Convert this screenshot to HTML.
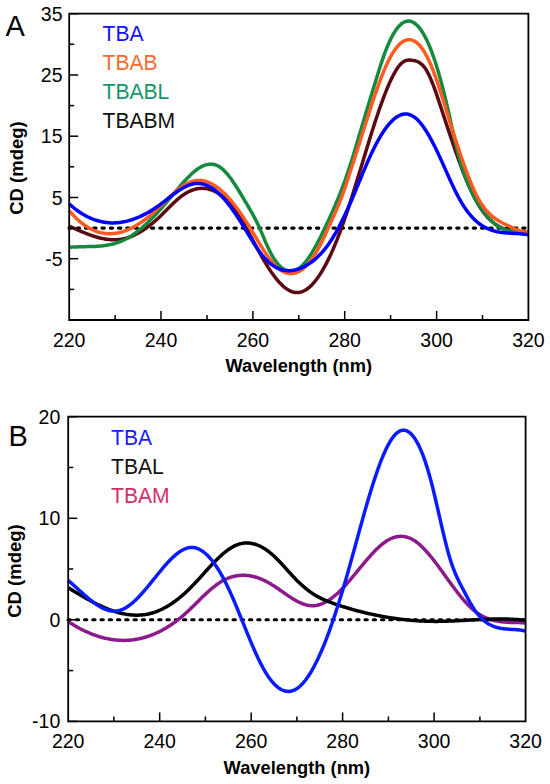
<!DOCTYPE html>
<html><head><meta charset="utf-8"><style>
html,body{margin:0;padding:0;background:#fff;}
body{width:550px;height:784px;overflow:hidden;}
svg{display:block;font-family:"Liberation Sans", sans-serif;}
</style></head><body>
<svg width="550" height="784" viewBox="0 0 550 784">
<rect width="550" height="784" fill="#fff"/>
<line x1="69.0" y1="228.1" x2="526.9" y2="228.1" stroke="#000" stroke-width="3.1" stroke-linecap="round" stroke-dasharray="2.3 5.95"/>
<path d="M69.0,226.0 L70.0,226.5 L71.0,226.9 L72.0,227.4 L73.0,227.8 L74.0,228.3 L75.0,228.7 L76.0,229.2 L77.0,229.6 L78.0,230.1 L79.0,230.5 L80.0,230.9 L81.0,231.4 L82.0,231.8 L83.0,232.2 L84.0,232.6 L85.0,233.0 L86.0,233.4 L87.0,233.8 L88.0,234.2 L89.0,234.6 L90.0,234.9 L91.0,235.3 L92.0,235.6 L93.0,236.0 L94.0,236.3 L95.0,236.6 L96.0,236.9 L97.0,237.2 L98.0,237.5 L99.0,237.7 L100.0,238.0 L101.0,238.2 L102.0,238.4 L103.0,238.6 L104.0,238.8 L105.0,239.0 L106.0,239.2 L107.0,239.3 L108.0,239.4 L109.0,239.5 L110.0,239.6 L111.0,239.7 L112.0,239.8 L113.0,239.8 L114.0,239.8 L115.0,239.8 L116.0,239.8 L117.0,239.7 L118.0,239.6 L119.0,239.6 L120.0,239.4 L121.0,239.3 L122.0,239.1 L123.0,239.0 L124.0,238.7 L125.0,238.5 L126.0,238.3 L127.0,238.0 L128.0,237.7 L129.0,237.3 L130.0,237.0 L131.0,236.6 L132.0,236.2 L133.0,235.7 L134.0,235.3 L135.0,234.8 L136.0,234.3 L137.0,233.8 L138.0,233.3 L139.0,232.7 L140.0,232.1 L141.0,231.5 L142.0,230.9 L143.0,230.3 L144.0,229.6 L145.0,228.9 L146.0,228.2 L147.0,227.5 L148.0,226.7 L149.0,226.0 L150.0,225.2 L151.0,224.4 L152.0,223.6 L153.0,222.8 L154.0,221.9 L155.0,221.1 L156.0,220.2 L157.0,219.3 L158.0,218.4 L159.0,217.5 L160.0,216.5 L161.0,215.6 L162.0,214.6 L163.0,213.6 L164.0,212.6 L165.0,211.6 L166.0,210.6 L167.0,209.6 L168.0,208.6 L169.0,207.6 L170.0,206.6 L171.0,205.6 L172.0,204.6 L173.0,203.6 L174.0,202.6 L175.0,201.7 L176.0,200.8 L177.0,199.9 L178.0,199.0 L179.0,198.1 L180.0,197.3 L181.0,196.5 L182.0,195.8 L183.0,195.1 L184.0,194.4 L185.0,193.8 L186.0,193.1 L187.0,192.6 L188.0,192.0 L189.0,191.5 L190.0,191.1 L191.0,190.6 L192.0,190.2 L193.0,189.9 L194.0,189.5 L195.0,189.3 L196.0,189.0 L197.0,188.8 L198.0,188.6 L199.0,188.5 L200.0,188.4 L201.0,188.3 L202.0,188.3 L203.0,188.3 L204.0,188.4 L205.0,188.4 L206.0,188.6 L207.0,188.7 L208.0,188.9 L209.0,189.2 L210.0,189.5 L211.0,189.8 L212.0,190.2 L213.0,190.6 L214.0,191.0 L215.0,191.5 L216.0,192.0 L217.0,192.6 L218.0,193.2 L219.0,193.8 L220.0,194.5 L221.0,195.3 L222.0,196.0 L223.0,196.9 L224.0,197.7 L225.0,198.6 L226.0,199.6 L227.0,200.6 L228.0,201.6 L229.0,202.7 L230.0,203.8 L231.0,204.9 L232.0,206.1 L233.0,207.4 L234.0,208.7 L235.0,210.0 L236.0,211.4 L237.0,212.8 L238.0,214.3 L239.0,215.8 L240.0,217.4 L241.0,219.0 L242.0,220.6 L243.0,222.3 L244.0,224.0 L245.0,225.8 L246.0,227.5 L247.0,229.3 L248.0,231.2 L249.0,233.0 L250.0,234.9 L251.0,236.7 L252.0,238.6 L253.0,240.5 L254.0,242.3 L255.0,244.2 L256.0,246.1 L257.0,248.0 L258.0,249.8 L259.0,251.7 L260.0,253.5 L261.0,255.3 L262.0,257.0 L263.0,258.8 L264.0,260.5 L265.0,262.2 L266.0,263.9 L267.0,265.5 L268.0,267.1 L269.0,268.6 L270.0,270.2 L271.0,271.6 L272.0,273.1 L273.0,274.5 L274.0,275.8 L275.0,277.2 L276.0,278.4 L277.0,279.7 L278.0,280.8 L279.0,282.0 L280.0,283.1 L281.0,284.1 L282.0,285.1 L283.0,286.0 L284.0,286.9 L285.0,287.7 L286.0,288.4 L287.0,289.1 L288.0,289.8 L289.0,290.3 L290.0,290.9 L291.0,291.3 L292.0,291.7 L293.0,292.0 L294.0,292.3 L295.0,292.4 L296.0,292.5 L297.0,292.6 L298.0,292.5 L299.0,292.4 L300.0,292.2 L301.0,292.0 L302.0,291.7 L303.0,291.3 L304.0,290.8 L305.0,290.3 L306.0,289.7 L307.0,289.0 L308.0,288.3 L309.0,287.5 L310.0,286.6 L311.0,285.7 L312.0,284.7 L313.0,283.6 L314.0,282.5 L315.0,281.3 L316.0,280.0 L317.0,278.7 L318.0,277.3 L319.0,275.9 L320.0,274.4 L321.0,272.8 L322.0,271.2 L323.0,269.5 L324.0,267.7 L325.0,265.9 L326.0,264.1 L327.0,262.1 L328.0,260.1 L329.0,258.1 L330.0,256.0 L331.0,253.9 L332.0,251.6 L333.0,249.4 L334.0,247.0 L335.0,244.7 L336.0,242.2 L337.0,239.8 L338.0,237.2 L339.0,234.6 L340.0,232.0 L341.0,229.3 L342.0,226.5 L343.0,223.7 L344.0,220.9 L345.0,218.0 L346.0,215.1 L347.0,212.1 L348.0,209.1 L349.0,206.0 L350.0,202.9 L351.0,199.8 L352.0,196.7 L353.0,193.5 L354.0,190.3 L355.0,187.1 L356.0,183.8 L357.0,180.6 L358.0,177.3 L359.0,174.0 L360.0,170.8 L361.0,167.5 L362.0,164.2 L363.0,160.9 L364.0,157.6 L365.0,154.3 L366.0,151.0 L367.0,147.8 L368.0,144.5 L369.0,141.3 L370.0,138.0 L371.0,134.8 L372.0,131.6 L373.0,128.5 L374.0,125.4 L375.0,122.3 L376.0,119.2 L377.0,116.2 L378.0,113.2 L379.0,110.3 L380.0,107.4 L381.0,104.6 L382.0,101.8 L383.0,99.1 L384.0,96.4 L385.0,93.8 L386.0,91.3 L387.0,88.8 L388.0,86.5 L389.0,84.1 L390.0,81.9 L391.0,79.8 L392.0,77.7 L393.0,75.7 L394.0,73.8 L395.0,72.0 L396.0,70.4 L397.0,68.8 L398.0,67.3 L399.0,66.0 L400.0,64.8 L401.0,63.7 L402.0,62.8 L403.0,62.0 L404.0,61.4 L405.0,60.9 L406.0,60.5 L407.0,60.3 L408.0,60.2 L409.0,60.1 L410.0,60.1 L411.0,60.2 L412.0,60.3 L413.0,60.4 L414.0,60.6 L415.0,60.8 L416.0,61.1 L417.0,61.4 L418.0,61.8 L419.0,62.3 L420.0,63.0 L421.0,63.7 L422.0,64.6 L423.0,65.6 L424.0,66.7 L425.0,68.1 L426.0,69.5 L427.0,71.2 L428.0,73.1 L429.0,75.1 L430.0,77.3 L431.0,79.6 L432.0,82.0 L433.0,84.5 L434.0,87.2 L435.0,89.9 L436.0,92.7 L437.0,95.6 L438.0,98.6 L439.0,101.6 L440.0,104.6 L441.0,107.6 L442.0,110.7 L443.0,113.7 L444.0,116.8 L445.0,119.8 L446.0,122.9 L447.0,125.9 L448.0,128.9 L449.0,131.9 L450.0,134.9 L451.0,137.9 L452.0,140.8 L453.0,143.8 L454.0,146.7 L455.0,149.6 L456.0,152.4 L457.0,155.2 L458.0,158.0 L459.0,160.8 L460.0,163.5 L461.0,166.2 L462.0,168.9 L463.0,171.5 L464.0,174.0 L465.0,176.5 L466.0,179.0 L467.0,181.4 L468.0,183.8 L469.0,186.1 L470.0,188.3 L471.0,190.5 L472.0,192.6 L473.0,194.7 L474.0,196.7 L475.0,198.6 L476.0,200.5 L477.0,202.3 L478.0,204.0 L479.0,205.7 L480.0,207.2 L481.0,208.8 L482.0,210.2 L483.0,211.6 L484.0,212.9 L485.0,214.2 L486.0,215.4 L487.0,216.6 L488.0,217.7 L489.0,218.7 L490.0,219.7 L491.0,220.6 L492.0,221.5 L493.0,222.4 L494.0,223.2 L495.0,223.9 L496.0,224.6 L497.0,225.3 L498.0,225.9 L499.0,226.5 L500.0,227.0 L501.0,227.6 L502.0,228.0 L503.0,228.5 L504.0,228.9 L505.0,229.3 L506.0,229.6 L507.0,229.9 L508.0,230.2 L509.0,230.5 L510.0,230.8 L511.0,231.0 L512.0,231.2 L513.0,231.4 L514.0,231.6 L515.0,231.7 L516.0,231.9 L517.0,232.0 L518.0,232.1 L519.0,232.2 L520.0,232.3 L521.0,232.4 L522.0,232.5 L523.0,232.6 L524.0,232.7 L525.0,232.7 L526.0,232.8 L527.0,232.9 L528.0,233.0" fill="none" stroke="#5a0a10" stroke-width="3.5" stroke-linejoin="round" stroke-linecap="butt"/>
<path d="M69.0,247.4 L70.0,247.3 L71.0,247.2 L72.0,247.1 L73.0,247.1 L74.0,247.0 L75.0,246.9 L76.0,246.9 L77.0,246.9 L78.0,246.8 L79.0,246.8 L80.0,246.8 L81.0,246.8 L82.0,246.7 L83.0,246.7 L84.0,246.7 L85.0,246.7 L86.0,246.7 L87.0,246.6 L88.0,246.6 L89.0,246.6 L90.0,246.6 L91.0,246.6 L92.0,246.5 L93.0,246.5 L94.0,246.4 L95.0,246.4 L96.0,246.3 L97.0,246.3 L98.0,246.2 L99.0,246.2 L100.0,246.1 L101.0,246.0 L102.0,245.9 L103.0,245.8 L104.0,245.6 L105.0,245.5 L106.0,245.4 L107.0,245.2 L108.0,245.0 L109.0,244.8 L110.0,244.6 L111.0,244.4 L112.0,244.2 L113.0,243.9 L114.0,243.7 L115.0,243.4 L116.0,243.1 L117.0,242.8 L118.0,242.4 L119.0,242.1 L120.0,241.7 L121.0,241.3 L122.0,240.9 L123.0,240.4 L124.0,240.0 L125.0,239.5 L126.0,239.0 L127.0,238.4 L128.0,237.9 L129.0,237.3 L130.0,236.7 L131.0,236.0 L132.0,235.4 L133.0,234.7 L134.0,234.0 L135.0,233.3 L136.0,232.6 L137.0,231.8 L138.0,231.0 L139.0,230.2 L140.0,229.4 L141.0,228.6 L142.0,227.7 L143.0,226.9 L144.0,226.0 L145.0,225.1 L146.0,224.2 L147.0,223.2 L148.0,222.3 L149.0,221.3 L150.0,220.3 L151.0,219.3 L152.0,218.3 L153.0,217.3 L154.0,216.3 L155.0,215.2 L156.0,214.2 L157.0,213.1 L158.0,212.0 L159.0,210.9 L160.0,209.8 L161.0,208.7 L162.0,207.6 L163.0,206.4 L164.0,205.3 L165.0,204.1 L166.0,202.9 L167.0,201.8 L168.0,200.6 L169.0,199.4 L170.0,198.2 L171.0,197.0 L172.0,195.8 L173.0,194.6 L174.0,193.4 L175.0,192.2 L176.0,190.9 L177.0,189.7 L178.0,188.6 L179.0,187.4 L180.0,186.2 L181.0,185.0 L182.0,183.9 L183.0,182.8 L184.0,181.6 L185.0,180.5 L186.0,179.5 L187.0,178.4 L188.0,177.4 L189.0,176.4 L190.0,175.4 L191.0,174.4 L192.0,173.5 L193.0,172.6 L194.0,171.8 L195.0,171.0 L196.0,170.2 L197.0,169.5 L198.0,168.8 L199.0,168.1 L200.0,167.5 L201.0,166.9 L202.0,166.4 L203.0,165.9 L204.0,165.5 L205.0,165.2 L206.0,164.8 L207.0,164.6 L208.0,164.4 L209.0,164.3 L210.0,164.2 L211.0,164.2 L212.0,164.2 L213.0,164.3 L214.0,164.5 L215.0,164.8 L216.0,165.1 L217.0,165.5 L218.0,166.0 L219.0,166.5 L220.0,167.2 L221.0,167.9 L222.0,168.7 L223.0,169.5 L224.0,170.5 L225.0,171.5 L226.0,172.6 L227.0,173.7 L228.0,174.9 L229.0,176.2 L230.0,177.5 L231.0,178.8 L232.0,180.2 L233.0,181.7 L234.0,183.2 L235.0,184.7 L236.0,186.2 L237.0,187.8 L238.0,189.4 L239.0,191.0 L240.0,192.7 L241.0,194.3 L242.0,196.0 L243.0,197.7 L244.0,199.4 L245.0,201.1 L246.0,202.7 L247.0,204.4 L248.0,206.1 L249.0,207.8 L250.0,209.5 L251.0,211.3 L252.0,213.0 L253.0,214.8 L254.0,216.7 L255.0,218.6 L256.0,220.5 L257.0,222.5 L258.0,224.6 L259.0,226.8 L260.0,229.0 L261.0,231.3 L262.0,233.6 L263.0,236.0 L264.0,238.4 L265.0,240.7 L266.0,243.1 L267.0,245.3 L268.0,247.5 L269.0,249.6 L270.0,251.6 L271.0,253.5 L272.0,255.3 L273.0,257.0 L274.0,258.6 L275.0,260.1 L276.0,261.5 L277.0,262.9 L278.0,264.1 L279.0,265.2 L280.0,266.2 L281.0,267.1 L282.0,267.9 L283.0,268.7 L284.0,269.3 L285.0,269.9 L286.0,270.3 L287.0,270.7 L288.0,271.0 L289.0,271.2 L290.0,271.3 L291.0,271.3 L292.0,271.2 L293.0,271.1 L294.0,270.8 L295.0,270.5 L296.0,270.0 L297.0,269.5 L298.0,269.0 L299.0,268.3 L300.0,267.5 L301.0,266.7 L302.0,265.8 L303.0,264.8 L304.0,263.7 L305.0,262.5 L306.0,261.3 L307.0,260.0 L308.0,258.7 L309.0,257.2 L310.0,255.7 L311.0,254.2 L312.0,252.6 L313.0,250.9 L314.0,249.2 L315.0,247.4 L316.0,245.6 L317.0,243.7 L318.0,241.8 L319.0,239.9 L320.0,238.0 L321.0,236.0 L322.0,233.9 L323.0,231.9 L324.0,229.8 L325.0,227.7 L326.0,225.6 L327.0,223.5 L328.0,221.4 L329.0,219.2 L330.0,217.0 L331.0,214.8 L332.0,212.6 L333.0,210.4 L334.0,208.1 L335.0,205.8 L336.0,203.4 L337.0,201.0 L338.0,198.6 L339.0,196.2 L340.0,193.7 L341.0,191.1 L342.0,188.5 L343.0,185.9 L344.0,183.2 L345.0,180.5 L346.0,177.6 L347.0,174.8 L348.0,171.8 L349.0,168.8 L350.0,165.8 L351.0,162.6 L352.0,159.4 L353.0,156.2 L354.0,152.9 L355.0,149.6 L356.0,146.2 L357.0,142.9 L358.0,139.5 L359.0,136.1 L360.0,132.8 L361.0,129.4 L362.0,126.1 L363.0,122.8 L364.0,119.4 L365.0,116.1 L366.0,112.8 L367.0,109.5 L368.0,106.2 L369.0,102.9 L370.0,99.6 L371.0,96.3 L372.0,93.0 L373.0,89.8 L374.0,86.5 L375.0,83.2 L376.0,80.0 L377.0,76.7 L378.0,73.5 L379.0,70.3 L380.0,67.1 L381.0,64.0 L382.0,61.0 L383.0,58.1 L384.0,55.2 L385.0,52.5 L386.0,49.9 L387.0,47.4 L388.0,45.0 L389.0,42.7 L390.0,40.5 L391.0,38.5 L392.0,36.5 L393.0,34.7 L394.0,33.0 L395.0,31.4 L396.0,29.9 L397.0,28.6 L398.0,27.3 L399.0,26.2 L400.0,25.1 L401.0,24.2 L402.0,23.4 L403.0,22.7 L404.0,22.2 L405.0,21.7 L406.0,21.4 L407.0,21.2 L408.0,21.0 L409.0,21.0 L410.0,21.2 L411.0,21.4 L412.0,21.7 L413.0,22.2 L414.0,22.8 L415.0,23.5 L416.0,24.3 L417.0,25.2 L418.0,26.2 L419.0,27.3 L420.0,28.6 L421.0,30.0 L422.0,31.5 L423.0,33.1 L424.0,34.8 L425.0,36.6 L426.0,38.6 L427.0,40.6 L428.0,42.8 L429.0,45.1 L430.0,47.5 L431.0,50.0 L432.0,52.7 L433.0,55.4 L434.0,58.3 L435.0,61.2 L436.0,64.3 L437.0,67.5 L438.0,70.8 L439.0,74.3 L440.0,77.8 L441.0,81.4 L442.0,85.1 L443.0,89.0 L444.0,92.9 L445.0,96.9 L446.0,101.1 L447.0,105.3 L448.0,109.6 L449.0,114.0 L450.0,118.5 L451.0,123.1 L452.0,127.6 L453.0,132.1 L454.0,136.6 L455.0,140.9 L456.0,145.2 L457.0,149.3 L458.0,153.2 L459.0,156.9 L460.0,160.5 L461.0,163.9 L462.0,167.1 L463.0,170.2 L464.0,173.2 L465.0,176.0 L466.0,178.7 L467.0,181.3 L468.0,183.7 L469.0,186.1 L470.0,188.3 L471.0,190.5 L472.0,192.5 L473.0,194.5 L474.0,196.4 L475.0,198.2 L476.0,200.0 L477.0,201.7 L478.0,203.4 L479.0,205.0 L480.0,206.5 L481.0,208.0 L482.0,209.4 L483.0,210.8 L484.0,212.2 L485.0,213.5 L486.0,214.7 L487.0,215.9 L488.0,217.1 L489.0,218.2 L490.0,219.3 L491.0,220.3 L492.0,221.3 L493.0,222.2 L494.0,223.1 L495.0,224.0 L496.0,224.8 L497.0,225.6 L498.0,226.3 L499.0,226.9 L500.0,227.5 L501.0,228.1 L502.0,228.6 L503.0,229.0 L504.0,229.4 L505.0,229.8 L506.0,230.1 L507.0,230.3 L508.0,230.6 L509.0,230.8 L510.0,230.9 L511.0,231.1 L512.0,231.2 L513.0,231.3 L514.0,231.4 L515.0,231.5 L516.0,231.6 L517.0,231.6 L518.0,231.7 L519.0,231.7 L520.0,231.8 L521.0,231.9 L522.0,232.0 L523.0,232.1 L524.0,232.2 L525.0,232.4 L526.0,232.5 L527.0,232.8 L528.0,233.0" fill="none" stroke="#158a3e" stroke-width="3.5" stroke-linejoin="round" stroke-linecap="butt"/>
<path d="M69.0,210.4 L70.0,211.6 L71.0,212.7 L72.0,213.9 L73.0,214.9 L74.0,216.0 L75.0,217.0 L76.0,218.0 L77.0,219.0 L78.0,219.9 L79.0,220.8 L80.0,221.6 L81.0,222.5 L82.0,223.2 L83.0,224.0 L84.0,224.7 L85.0,225.5 L86.0,226.1 L87.0,226.8 L88.0,227.4 L89.0,228.0 L90.0,228.5 L91.0,229.0 L92.0,229.5 L93.0,230.0 L94.0,230.4 L95.0,230.9 L96.0,231.2 L97.0,231.6 L98.0,231.9 L99.0,232.2 L100.0,232.5 L101.0,232.7 L102.0,232.9 L103.0,233.1 L104.0,233.3 L105.0,233.4 L106.0,233.5 L107.0,233.6 L108.0,233.7 L109.0,233.7 L110.0,233.7 L111.0,233.7 L112.0,233.6 L113.0,233.6 L114.0,233.5 L115.0,233.4 L116.0,233.2 L117.0,233.1 L118.0,232.9 L119.0,232.7 L120.0,232.4 L121.0,232.2 L122.0,231.9 L123.0,231.6 L124.0,231.2 L125.0,230.9 L126.0,230.5 L127.0,230.1 L128.0,229.7 L129.0,229.3 L130.0,228.8 L131.0,228.3 L132.0,227.8 L133.0,227.3 L134.0,226.8 L135.0,226.2 L136.0,225.6 L137.0,225.0 L138.0,224.4 L139.0,223.8 L140.0,223.1 L141.0,222.4 L142.0,221.8 L143.0,221.0 L144.0,220.3 L145.0,219.6 L146.0,218.8 L147.0,218.0 L148.0,217.2 L149.0,216.4 L150.0,215.5 L151.0,214.7 L152.0,213.8 L153.0,212.9 L154.0,212.0 L155.0,211.1 L156.0,210.2 L157.0,209.2 L158.0,208.3 L159.0,207.3 L160.0,206.3 L161.0,205.4 L162.0,204.4 L163.0,203.4 L164.0,202.4 L165.0,201.4 L166.0,200.5 L167.0,199.5 L168.0,198.5 L169.0,197.6 L170.0,196.6 L171.0,195.7 L172.0,194.8 L173.0,193.9 L174.0,193.0 L175.0,192.1 L176.0,191.2 L177.0,190.4 L178.0,189.6 L179.0,188.8 L180.0,188.0 L181.0,187.3 L182.0,186.6 L183.0,185.9 L184.0,185.3 L185.0,184.6 L186.0,184.1 L187.0,183.5 L188.0,183.0 L189.0,182.6 L190.0,182.2 L191.0,181.8 L192.0,181.4 L193.0,181.2 L194.0,180.9 L195.0,180.7 L196.0,180.6 L197.0,180.5 L198.0,180.4 L199.0,180.4 L200.0,180.4 L201.0,180.5 L202.0,180.6 L203.0,180.8 L204.0,181.0 L205.0,181.2 L206.0,181.5 L207.0,181.8 L208.0,182.2 L209.0,182.6 L210.0,183.0 L211.0,183.5 L212.0,184.0 L213.0,184.6 L214.0,185.2 L215.0,185.8 L216.0,186.5 L217.0,187.2 L218.0,187.9 L219.0,188.7 L220.0,189.5 L221.0,190.4 L222.0,191.3 L223.0,192.2 L224.0,193.1 L225.0,194.1 L226.0,195.1 L227.0,196.2 L228.0,197.3 L229.0,198.4 L230.0,199.5 L231.0,200.7 L232.0,201.9 L233.0,203.1 L234.0,204.4 L235.0,205.7 L236.0,207.0 L237.0,208.3 L238.0,209.7 L239.0,211.1 L240.0,212.5 L241.0,213.9 L242.0,215.4 L243.0,216.9 L244.0,218.4 L245.0,219.9 L246.0,221.5 L247.0,223.0 L248.0,224.6 L249.0,226.2 L250.0,227.8 L251.0,229.5 L252.0,231.1 L253.0,232.8 L254.0,234.4 L255.0,236.1 L256.0,237.8 L257.0,239.4 L258.0,241.1 L259.0,242.7 L260.0,244.4 L261.0,246.0 L262.0,247.6 L263.0,249.1 L264.0,250.7 L265.0,252.2 L266.0,253.7 L267.0,255.2 L268.0,256.6 L269.0,258.0 L270.0,259.3 L271.0,260.6 L272.0,261.9 L273.0,263.0 L274.0,264.2 L275.0,265.3 L276.0,266.3 L277.0,267.2 L278.0,268.1 L279.0,268.9 L280.0,269.7 L281.0,270.4 L282.0,271.0 L283.0,271.5 L284.0,272.0 L285.0,272.5 L286.0,272.8 L287.0,273.1 L288.0,273.3 L289.0,273.5 L290.0,273.6 L291.0,273.6 L292.0,273.6 L293.0,273.5 L294.0,273.3 L295.0,273.1 L296.0,272.8 L297.0,272.4 L298.0,272.0 L299.0,271.5 L300.0,270.9 L301.0,270.3 L302.0,269.6 L303.0,268.8 L304.0,268.0 L305.0,267.1 L306.0,266.1 L307.0,265.0 L308.0,263.9 L309.0,262.8 L310.0,261.5 L311.0,260.2 L312.0,258.8 L313.0,257.4 L314.0,255.9 L315.0,254.3 L316.0,252.6 L317.0,250.9 L318.0,249.1 L319.0,247.3 L320.0,245.4 L321.0,243.4 L322.0,241.4 L323.0,239.4 L324.0,237.3 L325.0,235.2 L326.0,233.0 L327.0,230.8 L328.0,228.6 L329.0,226.4 L330.0,224.2 L331.0,222.0 L332.0,219.8 L333.0,217.5 L334.0,215.3 L335.0,213.1 L336.0,210.8 L337.0,208.6 L338.0,206.2 L339.0,203.9 L340.0,201.4 L341.0,198.9 L342.0,196.2 L343.0,193.5 L344.0,190.6 L345.0,187.7 L346.0,184.7 L347.0,181.7 L348.0,178.6 L349.0,175.5 L350.0,172.4 L351.0,169.3 L352.0,166.2 L353.0,163.1 L354.0,160.1 L355.0,157.0 L356.0,153.9 L357.0,150.8 L358.0,147.7 L359.0,144.6 L360.0,141.4 L361.0,138.3 L362.0,135.1 L363.0,132.0 L364.0,128.8 L365.0,125.6 L366.0,122.5 L367.0,119.3 L368.0,116.2 L369.0,113.1 L370.0,110.0 L371.0,106.9 L372.0,103.8 L373.0,100.8 L374.0,97.8 L375.0,94.8 L376.0,91.9 L377.0,89.1 L378.0,86.2 L379.0,83.5 L380.0,80.8 L381.0,78.1 L382.0,75.6 L383.0,73.1 L384.0,70.6 L385.0,68.3 L386.0,66.0 L387.0,63.8 L388.0,61.7 L389.0,59.7 L390.0,57.8 L391.0,56.0 L392.0,54.2 L393.0,52.6 L394.0,51.1 L395.0,49.6 L396.0,48.3 L397.0,47.0 L398.0,45.9 L399.0,44.8 L400.0,43.9 L401.0,43.0 L402.0,42.2 L403.0,41.6 L404.0,41.0 L405.0,40.5 L406.0,40.2 L407.0,39.9 L408.0,39.7 L409.0,39.7 L410.0,39.7 L411.0,39.9 L412.0,40.1 L413.0,40.5 L414.0,40.9 L415.0,41.5 L416.0,42.2 L417.0,42.9 L418.0,43.8 L419.0,44.8 L420.0,45.9 L421.0,47.1 L422.0,48.4 L423.0,49.8 L424.0,51.4 L425.0,53.0 L426.0,54.8 L427.0,56.6 L428.0,58.6 L429.0,60.7 L430.0,62.9 L431.0,65.2 L432.0,67.6 L433.0,70.1 L434.0,72.8 L435.0,75.5 L436.0,78.3 L437.0,81.1 L438.0,84.1 L439.0,87.1 L440.0,90.2 L441.0,93.3 L442.0,96.4 L443.0,99.6 L444.0,102.8 L445.0,106.0 L446.0,109.3 L447.0,112.5 L448.0,115.7 L449.0,118.9 L450.0,122.2 L451.0,125.4 L452.0,128.6 L453.0,131.7 L454.0,134.9 L455.0,138.0 L456.0,141.2 L457.0,144.2 L458.0,147.3 L459.0,150.3 L460.0,153.3 L461.0,156.3 L462.0,159.2 L463.0,162.1 L464.0,164.9 L465.0,167.7 L466.0,170.4 L467.0,173.0 L468.0,175.7 L469.0,178.2 L470.0,180.7 L471.0,183.1 L472.0,185.5 L473.0,187.8 L474.0,190.0 L475.0,192.1 L476.0,194.2 L477.0,196.1 L478.0,198.0 L479.0,199.8 L480.0,201.5 L481.0,203.1 L482.0,204.7 L483.0,206.1 L484.0,207.5 L485.0,208.8 L486.0,210.1 L487.0,211.2 L488.0,212.3 L489.0,213.4 L490.0,214.3 L491.0,215.3 L492.0,216.1 L493.0,217.0 L494.0,217.7 L495.0,218.5 L496.0,219.2 L497.0,219.8 L498.0,220.4 L499.0,221.0 L500.0,221.6 L501.0,222.2 L502.0,222.7 L503.0,223.2 L504.0,223.7 L505.0,224.2 L506.0,224.7 L507.0,225.2 L508.0,225.6 L509.0,226.1 L510.0,226.6 L511.0,227.1 L512.0,227.6 L513.0,228.0 L514.0,228.5 L515.0,228.9 L516.0,229.4 L517.0,229.8 L518.0,230.1 L519.0,230.5 L520.0,230.8 L521.0,231.1 L522.0,231.3 L523.0,231.5 L524.0,231.7 L525.0,231.8 L526.0,231.8 L527.0,231.8 L528.0,231.8" fill="none" stroke="#ff5a1f" stroke-width="3.5" stroke-linejoin="round" stroke-linecap="butt"/>
<path d="M69.0,203.8 L70.0,204.7 L71.0,205.5 L72.0,206.4 L73.0,207.2 L74.0,208.0 L75.0,208.8 L76.0,209.6 L77.0,210.3 L78.0,211.0 L79.0,211.7 L80.0,212.4 L81.0,213.0 L82.0,213.7 L83.0,214.3 L84.0,214.8 L85.0,215.4 L86.0,216.0 L87.0,216.5 L88.0,217.0 L89.0,217.4 L90.0,217.9 L91.0,218.3 L92.0,218.8 L93.0,219.2 L94.0,219.5 L95.0,219.9 L96.0,220.2 L97.0,220.5 L98.0,220.8 L99.0,221.1 L100.0,221.3 L101.0,221.6 L102.0,221.8 L103.0,222.0 L104.0,222.2 L105.0,222.3 L106.0,222.5 L107.0,222.6 L108.0,222.7 L109.0,222.8 L110.0,222.8 L111.0,222.9 L112.0,222.9 L113.0,222.9 L114.0,222.9 L115.0,222.8 L116.0,222.8 L117.0,222.7 L118.0,222.7 L119.0,222.6 L120.0,222.4 L121.0,222.3 L122.0,222.1 L123.0,222.0 L124.0,221.8 L125.0,221.6 L126.0,221.4 L127.0,221.1 L128.0,220.9 L129.0,220.6 L130.0,220.3 L131.0,220.0 L132.0,219.7 L133.0,219.3 L134.0,219.0 L135.0,218.6 L136.0,218.2 L137.0,217.8 L138.0,217.4 L139.0,217.0 L140.0,216.6 L141.0,216.1 L142.0,215.6 L143.0,215.1 L144.0,214.6 L145.0,214.1 L146.0,213.6 L147.0,213.0 L148.0,212.5 L149.0,211.9 L150.0,211.3 L151.0,210.7 L152.0,210.1 L153.0,209.4 L154.0,208.8 L155.0,208.1 L156.0,207.5 L157.0,206.8 L158.0,206.1 L159.0,205.4 L160.0,204.6 L161.0,203.9 L162.0,203.1 L163.0,202.4 L164.0,201.6 L165.0,200.9 L166.0,200.1 L167.0,199.3 L168.0,198.5 L169.0,197.7 L170.0,197.0 L171.0,196.2 L172.0,195.4 L173.0,194.7 L174.0,193.9 L175.0,193.2 L176.0,192.5 L177.0,191.8 L178.0,191.1 L179.0,190.4 L180.0,189.8 L181.0,189.2 L182.0,188.5 L183.0,188.0 L184.0,187.4 L185.0,186.9 L186.0,186.4 L187.0,185.9 L188.0,185.5 L189.0,185.1 L190.0,184.8 L191.0,184.4 L192.0,184.2 L193.0,183.9 L194.0,183.7 L195.0,183.6 L196.0,183.5 L197.0,183.4 L198.0,183.4 L199.0,183.5 L200.0,183.6 L201.0,183.7 L202.0,183.9 L203.0,184.1 L204.0,184.3 L205.0,184.7 L206.0,185.0 L207.0,185.4 L208.0,185.9 L209.0,186.3 L210.0,186.9 L211.0,187.5 L212.0,188.1 L213.0,188.7 L214.0,189.4 L215.0,190.2 L216.0,191.0 L217.0,191.8 L218.0,192.7 L219.0,193.6 L220.0,194.6 L221.0,195.6 L222.0,196.6 L223.0,197.7 L224.0,198.8 L225.0,200.0 L226.0,201.1 L227.0,202.4 L228.0,203.6 L229.0,204.9 L230.0,206.2 L231.0,207.6 L232.0,209.0 L233.0,210.4 L234.0,211.8 L235.0,213.2 L236.0,214.7 L237.0,216.2 L238.0,217.7 L239.0,219.3 L240.0,220.8 L241.0,222.4 L242.0,224.0 L243.0,225.6 L244.0,227.2 L245.0,228.8 L246.0,230.5 L247.0,232.1 L248.0,233.8 L249.0,235.4 L250.0,237.1 L251.0,238.7 L252.0,240.3 L253.0,241.9 L254.0,243.5 L255.0,245.1 L256.0,246.6 L257.0,248.1 L258.0,249.6 L259.0,251.0 L260.0,252.4 L261.0,253.7 L262.0,255.0 L263.0,256.2 L264.0,257.4 L265.0,258.5 L266.0,259.6 L267.0,260.6 L268.0,261.6 L269.0,262.5 L270.0,263.3 L271.0,264.1 L272.0,264.9 L273.0,265.6 L274.0,266.2 L275.0,266.8 L276.0,267.4 L277.0,267.9 L278.0,268.4 L279.0,268.8 L280.0,269.2 L281.0,269.5 L282.0,269.8 L283.0,270.1 L284.0,270.3 L285.0,270.4 L286.0,270.6 L287.0,270.6 L288.0,270.7 L289.0,270.7 L290.0,270.7 L291.0,270.6 L292.0,270.5 L293.0,270.4 L294.0,270.2 L295.0,270.0 L296.0,269.8 L297.0,269.5 L298.0,269.2 L299.0,268.8 L300.0,268.5 L301.0,268.1 L302.0,267.6 L303.0,267.2 L304.0,266.7 L305.0,266.2 L306.0,265.6 L307.0,265.0 L308.0,264.4 L309.0,263.8 L310.0,263.1 L311.0,262.4 L312.0,261.7 L313.0,261.0 L314.0,260.2 L315.0,259.3 L316.0,258.5 L317.0,257.5 L318.0,256.6 L319.0,255.6 L320.0,254.6 L321.0,253.5 L322.0,252.4 L323.0,251.3 L324.0,250.1 L325.0,248.9 L326.0,247.6 L327.0,246.3 L328.0,244.9 L329.0,243.5 L330.0,242.0 L331.0,240.5 L332.0,239.0 L333.0,237.3 L334.0,235.7 L335.0,234.0 L336.0,232.3 L337.0,230.5 L338.0,228.6 L339.0,226.8 L340.0,224.9 L341.0,222.9 L342.0,220.9 L343.0,218.9 L344.0,216.8 L345.0,214.7 L346.0,212.6 L347.0,210.4 L348.0,208.2 L349.0,206.0 L350.0,203.8 L351.0,201.5 L352.0,199.2 L353.0,196.8 L354.0,194.4 L355.0,192.1 L356.0,189.7 L357.0,187.2 L358.0,184.8 L359.0,182.4 L360.0,180.0 L361.0,177.6 L362.0,175.1 L363.0,172.7 L364.0,170.4 L365.0,168.0 L366.0,165.6 L367.0,163.3 L368.0,161.0 L369.0,158.8 L370.0,156.6 L371.0,154.4 L372.0,152.3 L373.0,150.2 L374.0,148.2 L375.0,146.2 L376.0,144.3 L377.0,142.4 L378.0,140.6 L379.0,138.8 L380.0,137.1 L381.0,135.4 L382.0,133.8 L383.0,132.2 L384.0,130.7 L385.0,129.3 L386.0,127.9 L387.0,126.6 L388.0,125.3 L389.0,124.1 L390.0,122.9 L391.0,121.9 L392.0,120.9 L393.0,119.9 L394.0,119.0 L395.0,118.2 L396.0,117.5 L397.0,116.8 L398.0,116.2 L399.0,115.7 L400.0,115.2 L401.0,114.8 L402.0,114.5 L403.0,114.3 L404.0,114.1 L405.0,114.0 L406.0,114.0 L407.0,114.1 L408.0,114.2 L409.0,114.5 L410.0,114.8 L411.0,115.2 L412.0,115.7 L413.0,116.2 L414.0,116.9 L415.0,117.6 L416.0,118.4 L417.0,119.3 L418.0,120.3 L419.0,121.4 L420.0,122.5 L421.0,123.7 L422.0,125.0 L423.0,126.3 L424.0,127.8 L425.0,129.2 L426.0,130.8 L427.0,132.4 L428.0,134.0 L429.0,135.7 L430.0,137.5 L431.0,139.3 L432.0,141.2 L433.0,143.1 L434.0,145.0 L435.0,147.0 L436.0,149.0 L437.0,151.1 L438.0,153.2 L439.0,155.4 L440.0,157.5 L441.0,159.7 L442.0,161.9 L443.0,164.1 L444.0,166.4 L445.0,168.6 L446.0,170.9 L447.0,173.1 L448.0,175.3 L449.0,177.6 L450.0,179.8 L451.0,181.9 L452.0,184.1 L453.0,186.2 L454.0,188.3 L455.0,190.4 L456.0,192.4 L457.0,194.4 L458.0,196.3 L459.0,198.2 L460.0,200.0 L461.0,201.7 L462.0,203.4 L463.0,205.0 L464.0,206.6 L465.0,208.1 L466.0,209.5 L467.0,210.9 L468.0,212.2 L469.0,213.5 L470.0,214.7 L471.0,215.9 L472.0,217.0 L473.0,218.1 L474.0,219.1 L475.0,220.0 L476.0,221.0 L477.0,221.8 L478.0,222.7 L479.0,223.5 L480.0,224.2 L481.0,224.9 L482.0,225.6 L483.0,226.2 L484.0,226.8 L485.0,227.3 L486.0,227.9 L487.0,228.3 L488.0,228.8 L489.0,229.2 L490.0,229.6 L491.0,230.0 L492.0,230.3 L493.0,230.6 L494.0,230.9 L495.0,231.2 L496.0,231.4 L497.0,231.7 L498.0,231.9 L499.0,232.1 L500.0,232.2 L501.0,232.4 L502.0,232.5 L503.0,232.6 L504.0,232.7 L505.0,232.8 L506.0,232.9 L507.0,233.0 L508.0,233.1 L509.0,233.1 L510.0,233.2 L511.0,233.3 L512.0,233.3 L513.0,233.4 L514.0,233.4 L515.0,233.5 L516.0,233.5 L517.0,233.6 L518.0,233.6 L519.0,233.7 L520.0,233.8 L521.0,233.9 L522.0,233.9 L523.0,234.0 L524.0,234.2 L525.0,234.3 L526.0,234.4 L527.0,234.6 L528.0,234.8" fill="none" stroke="#0000ff" stroke-width="3.5" stroke-linejoin="round" stroke-linecap="butt"/>
<path d="M69.2,13.7 H528.4 V320.0 H69.2 Z" fill="none" stroke="#000" stroke-width="1.8"/>
<line x1="69.2" y1="13.7" x2="78.2" y2="13.7" stroke="#000" stroke-width="1.5"/>
<text x="62.5" y="20.7" text-anchor="end" font-size="19.5">35</text>
<line x1="69.2" y1="75.0" x2="78.2" y2="75.0" stroke="#000" stroke-width="1.5"/>
<text x="62.5" y="82.0" text-anchor="end" font-size="19.5">25</text>
<line x1="69.2" y1="136.2" x2="78.2" y2="136.2" stroke="#000" stroke-width="1.5"/>
<text x="62.5" y="143.2" text-anchor="end" font-size="19.5">15</text>
<line x1="69.2" y1="197.5" x2="78.2" y2="197.5" stroke="#000" stroke-width="1.5"/>
<text x="62.5" y="204.5" text-anchor="end" font-size="19.5">5</text>
<line x1="69.2" y1="258.7" x2="78.2" y2="258.7" stroke="#000" stroke-width="1.5"/>
<text x="62.5" y="265.7" text-anchor="end" font-size="19.5">-5</text>
<line x1="69.2" y1="44.3" x2="74.2" y2="44.3" stroke="#000" stroke-width="1.5"/>
<line x1="69.2" y1="105.6" x2="74.2" y2="105.6" stroke="#000" stroke-width="1.5"/>
<line x1="69.2" y1="166.8" x2="74.2" y2="166.8" stroke="#000" stroke-width="1.5"/>
<line x1="69.2" y1="228.1" x2="74.2" y2="228.1" stroke="#000" stroke-width="1.5"/>
<line x1="69.2" y1="289.4" x2="74.2" y2="289.4" stroke="#000" stroke-width="1.5"/>
<line x1="161.0" y1="320.0" x2="161.0" y2="311.0" stroke="#000" stroke-width="1.5"/>
<line x1="252.9" y1="320.0" x2="252.9" y2="311.0" stroke="#000" stroke-width="1.5"/>
<line x1="344.7" y1="320.0" x2="344.7" y2="311.0" stroke="#000" stroke-width="1.5"/>
<line x1="436.6" y1="320.0" x2="436.6" y2="311.0" stroke="#000" stroke-width="1.5"/>
<line x1="115.1" y1="320.0" x2="115.1" y2="315.0" stroke="#000" stroke-width="1.5"/>
<line x1="207.0" y1="320.0" x2="207.0" y2="315.0" stroke="#000" stroke-width="1.5"/>
<line x1="298.8" y1="320.0" x2="298.8" y2="315.0" stroke="#000" stroke-width="1.5"/>
<line x1="390.6" y1="320.0" x2="390.6" y2="315.0" stroke="#000" stroke-width="1.5"/>
<line x1="482.5" y1="320.0" x2="482.5" y2="315.0" stroke="#000" stroke-width="1.5"/>
<text x="69.2" y="346.5" text-anchor="middle" font-size="19.5">220</text>
<text x="161.0" y="346.5" text-anchor="middle" font-size="19.5">240</text>
<text x="252.9" y="346.5" text-anchor="middle" font-size="19.5">260</text>
<text x="344.7" y="346.5" text-anchor="middle" font-size="19.5">280</text>
<text x="436.6" y="346.5" text-anchor="middle" font-size="19.5">300</text>
<text x="528.4" y="346.5" text-anchor="middle" font-size="19.5">320</text>
<text x="298.8" y="372.0" text-anchor="middle" font-size="18.3" font-weight="bold">Wavelength (nm)</text>
<text transform="translate(23.0,168.0) rotate(-90)" text-anchor="middle" font-size="18.5" font-weight="bold">CD (mdeg)</text>
<text x="5.5" y="36.2" font-size="29">A</text>
<text transform="translate(102.5,41.3) scale(0.96,1)" font-size="22" fill="#1010ff">TBA</text>
<text transform="translate(102.5,70.3) scale(0.96,1)" font-size="22" fill="#f86a30">TBAB</text>
<text transform="translate(102.5,99.3) scale(0.96,1)" font-size="22" fill="#14966a">TBABL</text>
<text transform="translate(102.5,128.3) scale(0.96,1)" font-size="22" fill="#111">TBABM</text>
<line x1="68.0" y1="619.8" x2="524.1" y2="619.8" stroke="#000" stroke-width="3.1" stroke-linecap="round" stroke-dasharray="2.3 5.95"/>
<path d="M68.2,621.6 L69.2,622.3 L70.2,622.9 L71.2,623.5 L72.2,624.1 L73.2,624.7 L74.2,625.3 L75.2,625.9 L76.2,626.5 L77.2,627.1 L78.2,627.6 L79.2,628.2 L80.2,628.7 L81.2,629.2 L82.2,629.7 L83.2,630.2 L84.2,630.7 L85.2,631.2 L86.2,631.6 L87.2,632.1 L88.2,632.5 L89.2,632.9 L90.2,633.4 L91.2,633.8 L92.2,634.2 L93.2,634.5 L94.2,634.9 L95.2,635.3 L96.2,635.6 L97.2,636.0 L98.2,636.3 L99.2,636.6 L100.2,636.9 L101.2,637.2 L102.2,637.5 L103.2,637.7 L104.2,638.0 L105.2,638.2 L106.2,638.4 L107.2,638.6 L108.2,638.8 L109.2,639.0 L110.2,639.2 L111.2,639.4 L112.2,639.5 L113.2,639.7 L114.2,639.8 L115.2,639.9 L116.2,640.0 L117.2,640.1 L118.2,640.2 L119.2,640.2 L120.2,640.3 L121.2,640.3 L122.2,640.4 L123.2,640.4 L124.2,640.4 L125.2,640.3 L126.2,640.3 L127.2,640.3 L128.2,640.2 L129.2,640.2 L130.2,640.1 L131.2,640.0 L132.2,639.9 L133.2,639.8 L134.2,639.6 L135.2,639.5 L136.2,639.3 L137.2,639.1 L138.2,638.9 L139.2,638.7 L140.2,638.5 L141.2,638.3 L142.2,638.0 L143.2,637.8 L144.2,637.5 L145.2,637.2 L146.2,636.9 L147.2,636.6 L148.2,636.3 L149.2,635.9 L150.2,635.6 L151.2,635.2 L152.2,634.8 L153.2,634.4 L154.2,634.0 L155.2,633.6 L156.2,633.1 L157.2,632.7 L158.2,632.2 L159.2,631.7 L160.2,631.2 L161.2,630.7 L162.2,630.2 L163.2,629.6 L164.2,629.0 L165.2,628.5 L166.2,627.9 L167.2,627.3 L168.2,626.6 L169.2,626.0 L170.2,625.4 L171.2,624.7 L172.2,624.0 L173.2,623.3 L174.2,622.6 L175.2,621.9 L176.2,621.1 L177.2,620.4 L178.2,619.6 L179.2,618.8 L180.2,618.0 L181.2,617.2 L182.2,616.3 L183.2,615.5 L184.2,614.6 L185.2,613.7 L186.2,612.8 L187.2,611.9 L188.2,611.0 L189.2,610.0 L190.2,609.1 L191.2,608.1 L192.2,607.1 L193.2,606.2 L194.2,605.2 L195.2,604.2 L196.2,603.2 L197.2,602.2 L198.2,601.2 L199.2,600.2 L200.2,599.3 L201.2,598.3 L202.2,597.3 L203.2,596.3 L204.2,595.4 L205.2,594.4 L206.2,593.5 L207.2,592.6 L208.2,591.7 L209.2,590.8 L210.2,589.9 L211.2,589.0 L212.2,588.2 L213.2,587.4 L214.2,586.6 L215.2,585.8 L216.2,585.0 L217.2,584.3 L218.2,583.6 L219.2,582.9 L220.2,582.3 L221.2,581.6 L222.2,581.0 L223.2,580.5 L224.2,580.0 L225.2,579.5 L226.2,579.0 L227.2,578.6 L228.2,578.1 L229.2,577.8 L230.2,577.4 L231.2,577.1 L232.2,576.8 L233.2,576.5 L234.2,576.3 L235.2,576.0 L236.2,575.9 L237.2,575.7 L238.2,575.5 L239.2,575.4 L240.2,575.4 L241.2,575.3 L242.2,575.3 L243.2,575.2 L244.2,575.3 L245.2,575.3 L246.2,575.4 L247.2,575.5 L248.2,575.6 L249.2,575.7 L250.2,575.9 L251.2,576.0 L252.2,576.3 L253.2,576.5 L254.2,576.7 L255.2,577.0 L256.2,577.3 L257.2,577.6 L258.2,578.0 L259.2,578.3 L260.2,578.7 L261.2,579.1 L262.2,579.5 L263.2,580.0 L264.2,580.4 L265.2,580.9 L266.2,581.4 L267.2,582.0 L268.2,582.5 L269.2,583.1 L270.2,583.6 L271.2,584.2 L272.2,584.9 L273.2,585.5 L274.2,586.1 L275.2,586.8 L276.2,587.5 L277.2,588.1 L278.2,588.8 L279.2,589.5 L280.2,590.2 L281.2,590.9 L282.2,591.6 L283.2,592.3 L284.2,593.0 L285.2,593.7 L286.2,594.4 L287.2,595.1 L288.2,595.8 L289.2,596.4 L290.2,597.1 L291.2,597.7 L292.2,598.4 L293.2,599.0 L294.2,599.6 L295.2,600.2 L296.2,600.7 L297.2,601.3 L298.2,601.8 L299.2,602.3 L300.2,602.7 L301.2,603.2 L302.2,603.6 L303.2,604.0 L304.2,604.3 L305.2,604.6 L306.2,604.9 L307.2,605.2 L308.2,605.4 L309.2,605.5 L310.2,605.6 L311.2,605.7 L312.2,605.8 L313.2,605.7 L314.2,605.7 L315.2,605.6 L316.2,605.4 L317.2,605.3 L318.2,605.0 L319.2,604.8 L320.2,604.4 L321.2,604.1 L322.2,603.7 L323.2,603.3 L324.2,602.8 L325.2,602.3 L326.2,601.8 L327.2,601.2 L328.2,600.6 L329.2,599.9 L330.2,599.2 L331.2,598.5 L332.2,597.8 L333.2,597.0 L334.2,596.2 L335.2,595.3 L336.2,594.5 L337.2,593.6 L338.2,592.7 L339.2,591.7 L340.2,590.7 L341.2,589.7 L342.2,588.7 L343.2,587.7 L344.2,586.6 L345.2,585.5 L346.2,584.4 L347.2,583.3 L348.2,582.1 L349.2,581.0 L350.2,579.8 L351.2,578.6 L352.2,577.4 L353.2,576.2 L354.2,575.0 L355.2,573.8 L356.2,572.6 L357.2,571.4 L358.2,570.2 L359.2,568.9 L360.2,567.7 L361.2,566.5 L362.2,565.3 L363.2,564.1 L364.2,562.9 L365.2,561.7 L366.2,560.5 L367.2,559.4 L368.2,558.2 L369.2,557.1 L370.2,556.0 L371.2,554.8 L372.2,553.8 L373.2,552.7 L374.2,551.6 L375.2,550.6 L376.2,549.6 L377.2,548.6 L378.2,547.7 L379.2,546.8 L380.2,545.9 L381.2,545.0 L382.2,544.2 L383.2,543.4 L384.2,542.7 L385.2,542.0 L386.2,541.3 L387.2,540.6 L388.2,540.0 L389.2,539.5 L390.2,539.0 L391.2,538.5 L392.2,538.1 L393.2,537.7 L394.2,537.4 L395.2,537.1 L396.2,536.8 L397.2,536.7 L398.2,536.5 L399.2,536.4 L400.2,536.3 L401.2,536.3 L402.2,536.4 L403.2,536.4 L404.2,536.6 L405.2,536.7 L406.2,537.0 L407.2,537.2 L408.2,537.6 L409.2,537.9 L410.2,538.3 L411.2,538.8 L412.2,539.3 L413.2,539.9 L414.2,540.5 L415.2,541.1 L416.2,541.8 L417.2,542.6 L418.2,543.4 L419.2,544.2 L420.2,545.1 L421.2,546.0 L422.2,547.0 L423.2,548.0 L424.2,549.0 L425.2,550.1 L426.2,551.2 L427.2,552.3 L428.2,553.4 L429.2,554.6 L430.2,555.8 L431.2,557.0 L432.2,558.3 L433.2,559.6 L434.2,560.9 L435.2,562.2 L436.2,563.5 L437.2,564.8 L438.2,566.1 L439.2,567.5 L440.2,568.9 L441.2,570.2 L442.2,571.6 L443.2,573.0 L444.2,574.4 L445.2,575.8 L446.2,577.2 L447.2,578.5 L448.2,579.9 L449.2,581.3 L450.2,582.7 L451.2,584.1 L452.2,585.4 L453.2,586.8 L454.2,588.1 L455.2,589.5 L456.2,590.8 L457.2,592.1 L458.2,593.4 L459.2,594.6 L460.2,595.9 L461.2,597.1 L462.2,598.3 L463.2,599.5 L464.2,600.7 L465.2,601.8 L466.2,602.9 L467.2,604.0 L468.2,605.0 L469.2,606.1 L470.2,607.0 L471.2,608.0 L472.2,608.9 L473.2,609.8 L474.2,610.6 L475.2,611.4 L476.2,612.2 L477.2,612.9 L478.2,613.6 L479.2,614.2 L480.2,614.8 L481.2,615.4 L482.2,616.0 L483.2,616.5 L484.2,617.0 L485.2,617.5 L486.2,617.9 L487.2,618.3 L488.2,618.7 L489.2,619.0 L490.2,619.4 L491.2,619.7 L492.2,620.0 L493.2,620.2 L494.2,620.5 L495.2,620.7 L496.2,620.9 L497.2,621.1 L498.2,621.3 L499.2,621.4 L500.2,621.6 L501.2,621.7 L502.2,621.8 L503.2,621.9 L504.2,622.0 L505.2,622.1 L506.2,622.2 L507.2,622.2 L508.2,622.3 L509.2,622.3 L510.2,622.4 L511.2,622.4 L512.2,622.4 L513.2,622.5 L514.2,622.5 L515.2,622.5 L516.2,622.5 L517.2,622.6 L518.2,622.6 L519.2,622.6 L520.2,622.7 L521.2,622.7 L522.2,622.8 L523.2,622.8 L524.2,622.9 L525.2,623.0 L525.5,623.0" fill="none" stroke="#8c1a8c" stroke-width="3.5" stroke-linejoin="round" stroke-linecap="butt"/>
<path d="M68.2,587.7 L69.2,588.3 L70.2,588.9 L71.2,589.6 L72.2,590.2 L73.2,590.8 L74.2,591.4 L75.2,592.0 L76.2,592.6 L77.2,593.2 L78.2,593.8 L79.2,594.3 L80.2,594.9 L81.2,595.5 L82.2,596.1 L83.2,596.7 L84.2,597.2 L85.2,597.8 L86.2,598.4 L87.2,598.9 L88.2,599.5 L89.2,600.0 L90.2,600.6 L91.2,601.1 L92.2,601.6 L93.2,602.2 L94.2,602.7 L95.2,603.2 L96.2,603.7 L97.2,604.2 L98.2,604.7 L99.2,605.2 L100.2,605.6 L101.2,606.1 L102.2,606.6 L103.2,607.0 L104.2,607.4 L105.2,607.9 L106.2,608.3 L107.2,608.7 L108.2,609.1 L109.2,609.5 L110.2,609.9 L111.2,610.2 L112.2,610.6 L113.2,610.9 L114.2,611.3 L115.2,611.6 L116.2,611.9 L117.2,612.2 L118.2,612.5 L119.2,612.7 L120.2,613.0 L121.2,613.3 L122.2,613.5 L123.2,613.7 L124.2,613.9 L125.2,614.1 L126.2,614.3 L127.2,614.4 L128.2,614.6 L129.2,614.7 L130.2,614.8 L131.2,614.9 L132.2,615.0 L133.2,615.1 L134.2,615.1 L135.2,615.2 L136.2,615.2 L137.2,615.2 L138.2,615.2 L139.2,615.1 L140.2,615.1 L141.2,615.0 L142.2,614.9 L143.2,614.8 L144.2,614.7 L145.2,614.6 L146.2,614.4 L147.2,614.2 L148.2,614.0 L149.2,613.8 L150.2,613.5 L151.2,613.3 L152.2,613.0 L153.2,612.7 L154.2,612.4 L155.2,612.0 L156.2,611.7 L157.2,611.3 L158.2,610.9 L159.2,610.4 L160.2,610.0 L161.2,609.5 L162.2,609.1 L163.2,608.6 L164.2,608.0 L165.2,607.5 L166.2,607.0 L167.2,606.4 L168.2,605.8 L169.2,605.2 L170.2,604.5 L171.2,603.9 L172.2,603.2 L173.2,602.5 L174.2,601.8 L175.2,601.1 L176.2,600.3 L177.2,599.6 L178.2,598.8 L179.2,598.0 L180.2,597.2 L181.2,596.4 L182.2,595.5 L183.2,594.6 L184.2,593.8 L185.2,592.9 L186.2,591.9 L187.2,591.0 L188.2,590.0 L189.2,589.1 L190.2,588.1 L191.2,587.1 L192.2,586.0 L193.2,585.0 L194.2,584.0 L195.2,582.9 L196.2,581.8 L197.2,580.7 L198.2,579.7 L199.2,578.6 L200.2,577.5 L201.2,576.4 L202.2,575.3 L203.2,574.2 L204.2,573.0 L205.2,571.9 L206.2,570.8 L207.2,569.7 L208.2,568.6 L209.2,567.6 L210.2,566.5 L211.2,565.4 L212.2,564.3 L213.2,563.3 L214.2,562.2 L215.2,561.2 L216.2,560.2 L217.2,559.2 L218.2,558.2 L219.2,557.3 L220.2,556.4 L221.2,555.4 L222.2,554.5 L223.2,553.7 L224.2,552.8 L225.2,552.0 L226.2,551.2 L227.2,550.5 L228.2,549.7 L229.2,549.0 L230.2,548.4 L231.2,547.8 L232.2,547.2 L233.2,546.6 L234.2,546.1 L235.2,545.6 L236.2,545.2 L237.2,544.8 L238.2,544.4 L239.2,544.1 L240.2,543.8 L241.2,543.6 L242.2,543.4 L243.2,543.2 L244.2,543.1 L245.2,543.0 L246.2,543.0 L247.2,543.0 L248.2,543.0 L249.2,543.1 L250.2,543.2 L251.2,543.4 L252.2,543.5 L253.2,543.8 L254.2,544.0 L255.2,544.3 L256.2,544.6 L257.2,545.0 L258.2,545.4 L259.2,545.8 L260.2,546.3 L261.2,546.8 L262.2,547.3 L263.2,547.9 L264.2,548.5 L265.2,549.1 L266.2,549.8 L267.2,550.5 L268.2,551.2 L269.2,552.0 L270.2,552.8 L271.2,553.6 L272.2,554.5 L273.2,555.3 L274.2,556.2 L275.2,557.2 L276.2,558.2 L277.2,559.2 L278.2,560.2 L279.2,561.2 L280.2,562.3 L281.2,563.3 L282.2,564.4 L283.2,565.5 L284.2,566.6 L285.2,567.8 L286.2,568.9 L287.2,570.0 L288.2,571.1 L289.2,572.2 L290.2,573.3 L291.2,574.4 L292.2,575.5 L293.2,576.6 L294.2,577.6 L295.2,578.6 L296.2,579.7 L297.2,580.7 L298.2,581.7 L299.2,582.6 L300.2,583.6 L301.2,584.5 L302.2,585.4 L303.2,586.3 L304.2,587.2 L305.2,588.0 L306.2,588.9 L307.2,589.7 L308.2,590.4 L309.2,591.2 L310.2,591.9 L311.2,592.6 L312.2,593.3 L313.2,594.0 L314.2,594.6 L315.2,595.2 L316.2,595.8 L317.2,596.4 L318.2,596.9 L319.2,597.4 L320.2,597.9 L321.2,598.4 L322.2,598.9 L323.2,599.4 L324.2,599.8 L325.2,600.2 L326.2,600.7 L327.2,601.1 L328.2,601.5 L329.2,601.8 L330.2,602.2 L331.2,602.6 L332.2,603.0 L333.2,603.3 L334.2,603.7 L335.2,604.1 L336.2,604.4 L337.2,604.8 L338.2,605.1 L339.2,605.4 L340.2,605.8 L341.2,606.1 L342.2,606.4 L343.2,606.7 L344.2,607.0 L345.2,607.3 L346.2,607.6 L347.2,607.9 L348.2,608.2 L349.2,608.5 L350.2,608.8 L351.2,609.1 L352.2,609.4 L353.2,609.7 L354.2,609.9 L355.2,610.2 L356.2,610.5 L357.2,610.7 L358.2,611.0 L359.2,611.3 L360.2,611.5 L361.2,611.8 L362.2,612.0 L363.2,612.3 L364.2,612.5 L365.2,612.8 L366.2,613.0 L367.2,613.2 L368.2,613.5 L369.2,613.7 L370.2,613.9 L371.2,614.1 L372.2,614.3 L373.2,614.6 L374.2,614.8 L375.2,615.0 L376.2,615.2 L377.2,615.4 L378.2,615.6 L379.2,615.8 L380.2,616.0 L381.2,616.2 L382.2,616.4 L383.2,616.5 L384.2,616.7 L385.2,616.9 L386.2,617.1 L387.2,617.2 L388.2,617.4 L389.2,617.6 L390.2,617.7 L391.2,617.9 L392.2,618.0 L393.2,618.2 L394.2,618.3 L395.2,618.5 L396.2,618.6 L397.2,618.7 L398.2,618.9 L399.2,619.0 L400.2,619.1 L401.2,619.3 L402.2,619.4 L403.2,619.5 L404.2,619.6 L405.2,619.7 L406.2,619.8 L407.2,619.9 L408.2,620.0 L409.2,620.1 L410.2,620.2 L411.2,620.3 L412.2,620.4 L413.2,620.5 L414.2,620.5 L415.2,620.6 L416.2,620.7 L417.2,620.8 L418.2,620.8 L419.2,620.9 L420.2,620.9 L421.2,621.0 L422.2,621.0 L423.2,621.1 L424.2,621.1 L425.2,621.2 L426.2,621.2 L427.2,621.2 L428.2,621.3 L429.2,621.3 L430.2,621.3 L431.2,621.3 L432.2,621.3 L433.2,621.3 L434.2,621.4 L435.2,621.4 L436.2,621.4 L437.2,621.4 L438.2,621.3 L439.2,621.3 L440.2,621.3 L441.2,621.3 L442.2,621.3 L443.2,621.3 L444.2,621.2 L445.2,621.2 L446.2,621.2 L447.2,621.2 L448.2,621.1 L449.2,621.1 L450.2,621.1 L451.2,621.0 L452.2,621.0 L453.2,620.9 L454.2,620.9 L455.2,620.8 L456.2,620.8 L457.2,620.8 L458.2,620.7 L459.2,620.7 L460.2,620.6 L461.2,620.6 L462.2,620.5 L463.2,620.4 L464.2,620.4 L465.2,620.3 L466.2,620.3 L467.2,620.2 L468.2,620.2 L469.2,620.1 L470.2,620.1 L471.2,620.0 L472.2,620.0 L473.2,619.9 L474.2,619.9 L475.2,619.8 L476.2,619.8 L477.2,619.7 L478.2,619.7 L479.2,619.6 L480.2,619.6 L481.2,619.5 L482.2,619.5 L483.2,619.4 L484.2,619.4 L485.2,619.4 L486.2,619.3 L487.2,619.3 L488.2,619.2 L489.2,619.2 L490.2,619.2 L491.2,619.2 L492.2,619.1 L493.2,619.1 L494.2,619.1 L495.2,619.1 L496.2,619.1 L497.2,619.0 L498.2,619.0 L499.2,619.0 L500.2,619.0 L501.2,619.0 L502.2,619.0 L503.2,619.0 L504.2,619.1 L505.2,619.1 L506.2,619.1 L507.2,619.1 L508.2,619.1 L509.2,619.2 L510.2,619.2 L511.2,619.2 L512.2,619.3 L513.2,619.3 L514.2,619.4 L515.2,619.4 L516.2,619.5 L517.2,619.6 L518.2,619.6 L519.2,619.7 L520.2,619.8 L521.2,619.9 L522.2,620.0 L523.2,620.1 L524.2,620.2 L525.2,620.3 L525.5,620.3" fill="none" stroke="#000000" stroke-width="3.5" stroke-linejoin="round" stroke-linecap="butt"/>
<path d="M68.2,580.4 L69.2,581.3 L70.2,582.1 L71.2,583.0 L72.2,583.9 L73.2,584.8 L74.2,585.7 L75.2,586.6 L76.2,587.5 L77.2,588.4 L78.2,589.3 L79.2,590.2 L80.2,591.1 L81.2,592.0 L82.2,592.9 L83.2,593.8 L84.2,594.7 L85.2,595.6 L86.2,596.4 L87.2,597.3 L88.2,598.1 L89.2,599.0 L90.2,599.8 L91.2,600.6 L92.2,601.4 L93.2,602.1 L94.2,602.9 L95.2,603.6 L96.2,604.3 L97.2,605.0 L98.2,605.6 L99.2,606.2 L100.2,606.8 L101.2,607.4 L102.2,607.9 L103.2,608.4 L104.2,608.8 L105.2,609.3 L106.2,609.6 L107.2,610.0 L108.2,610.3 L109.2,610.6 L110.2,610.8 L111.2,610.9 L112.2,611.1 L113.2,611.2 L114.2,611.2 L115.2,611.2 L116.2,611.1 L117.2,611.0 L118.2,610.8 L119.2,610.6 L120.2,610.3 L121.2,609.9 L122.2,609.5 L123.2,609.1 L124.2,608.6 L125.2,608.1 L126.2,607.5 L127.2,606.8 L128.2,606.2 L129.2,605.4 L130.2,604.7 L131.2,603.9 L132.2,603.1 L133.2,602.2 L134.2,601.3 L135.2,600.4 L136.2,599.4 L137.2,598.4 L138.2,597.4 L139.2,596.4 L140.2,595.3 L141.2,594.2 L142.2,593.1 L143.2,592.0 L144.2,590.8 L145.2,589.7 L146.2,588.5 L147.2,587.3 L148.2,586.1 L149.2,584.9 L150.2,583.6 L151.2,582.4 L152.2,581.2 L153.2,579.9 L154.2,578.7 L155.2,577.5 L156.2,576.2 L157.2,575.0 L158.2,573.7 L159.2,572.5 L160.2,571.3 L161.2,570.1 L162.2,568.9 L163.2,567.7 L164.2,566.5 L165.2,565.4 L166.2,564.3 L167.2,563.1 L168.2,562.1 L169.2,561.0 L170.2,559.9 L171.2,558.9 L172.2,558.0 L173.2,557.0 L174.2,556.1 L175.2,555.2 L176.2,554.4 L177.2,553.6 L178.2,552.8 L179.2,552.1 L180.2,551.4 L181.2,550.8 L182.2,550.2 L183.2,549.7 L184.2,549.2 L185.2,548.8 L186.2,548.4 L187.2,548.1 L188.2,547.8 L189.2,547.6 L190.2,547.5 L191.2,547.4 L192.2,547.4 L193.2,547.5 L194.2,547.6 L195.2,547.8 L196.2,548.1 L197.2,548.4 L198.2,548.8 L199.2,549.3 L200.2,549.8 L201.2,550.4 L202.2,551.0 L203.2,551.7 L204.2,552.5 L205.2,553.3 L206.2,554.2 L207.2,555.1 L208.2,556.1 L209.2,557.2 L210.2,558.3 L211.2,559.5 L212.2,560.7 L213.2,562.0 L214.2,563.4 L215.2,564.8 L216.2,566.2 L217.2,567.7 L218.2,569.3 L219.2,570.9 L220.2,572.6 L221.2,574.3 L222.2,576.1 L223.2,577.9 L224.2,579.8 L225.2,581.8 L226.2,583.8 L227.2,585.8 L228.2,587.9 L229.2,590.0 L230.2,592.2 L231.2,594.4 L232.2,596.7 L233.2,599.0 L234.2,601.3 L235.2,603.7 L236.2,606.0 L237.2,608.5 L238.2,610.9 L239.2,613.3 L240.2,615.8 L241.2,618.3 L242.2,620.7 L243.2,623.2 L244.2,625.7 L245.2,628.2 L246.2,630.6 L247.2,633.1 L248.2,635.5 L249.2,637.9 L250.2,640.3 L251.2,642.7 L252.2,645.1 L253.2,647.4 L254.2,649.7 L255.2,652.0 L256.2,654.2 L257.2,656.3 L258.2,658.5 L259.2,660.5 L260.2,662.6 L261.2,664.5 L262.2,666.4 L263.2,668.3 L264.2,670.0 L265.2,671.8 L266.2,673.4 L267.2,675.0 L268.2,676.5 L269.2,677.9 L270.2,679.2 L271.2,680.5 L272.2,681.8 L273.2,682.9 L274.2,684.0 L275.2,685.0 L276.2,685.9 L277.2,686.8 L278.2,687.5 L279.2,688.3 L280.2,688.9 L281.2,689.5 L282.2,690.0 L283.2,690.4 L284.2,690.7 L285.2,691.0 L286.2,691.2 L287.2,691.3 L288.2,691.4 L289.2,691.3 L290.2,691.2 L291.2,691.0 L292.2,690.8 L293.2,690.5 L294.2,690.1 L295.2,689.6 L296.2,689.0 L297.2,688.4 L298.2,687.6 L299.2,686.8 L300.2,686.0 L301.2,685.0 L302.2,684.0 L303.2,682.9 L304.2,681.7 L305.2,680.5 L306.2,679.2 L307.2,677.8 L308.2,676.3 L309.2,674.8 L310.2,673.2 L311.2,671.6 L312.2,669.8 L313.2,668.1 L314.2,666.2 L315.2,664.3 L316.2,662.3 L317.2,660.3 L318.2,658.2 L319.2,656.0 L320.2,653.8 L321.2,651.5 L322.2,649.2 L323.2,646.8 L324.2,644.3 L325.2,641.8 L326.2,639.3 L327.2,636.6 L328.2,634.0 L329.2,631.3 L330.2,628.5 L331.2,625.7 L332.2,622.8 L333.2,619.9 L334.2,617.0 L335.2,614.0 L336.2,610.9 L337.2,607.8 L338.2,604.7 L339.2,601.5 L340.2,598.3 L341.2,595.1 L342.2,591.8 L343.2,588.5 L344.2,585.1 L345.2,581.7 L346.2,578.2 L347.2,574.8 L348.2,571.2 L349.2,567.7 L350.2,564.1 L351.2,560.5 L352.2,556.9 L353.2,553.3 L354.2,549.7 L355.2,546.0 L356.2,542.4 L357.2,538.7 L358.2,535.1 L359.2,531.4 L360.2,527.8 L361.2,524.2 L362.2,520.6 L363.2,517.0 L364.2,513.5 L365.2,509.9 L366.2,506.4 L367.2,503.0 L368.2,499.6 L369.2,496.2 L370.2,492.9 L371.2,489.6 L372.2,486.4 L373.2,483.2 L374.2,480.2 L375.2,477.1 L376.2,474.2 L377.2,471.3 L378.2,468.4 L379.2,465.7 L380.2,463.0 L381.2,460.4 L382.2,457.9 L383.2,455.5 L384.2,453.2 L385.2,451.0 L386.2,448.8 L387.2,446.8 L388.2,444.9 L389.2,443.1 L390.2,441.4 L391.2,439.8 L392.2,438.3 L393.2,436.9 L394.2,435.7 L395.2,434.6 L396.2,433.6 L397.2,432.7 L398.2,432.0 L399.2,431.4 L400.2,430.9 L401.2,430.5 L402.2,430.3 L403.2,430.2 L404.2,430.2 L405.2,430.4 L406.2,430.6 L407.2,431.1 L408.2,431.6 L409.2,432.3 L410.2,433.1 L411.2,434.0 L412.2,435.1 L413.2,436.3 L414.2,437.7 L415.2,439.1 L416.2,440.8 L417.2,442.5 L418.2,444.4 L419.2,446.4 L420.2,448.6 L421.2,450.9 L422.2,453.4 L423.2,455.9 L424.2,458.7 L425.2,461.5 L426.2,464.6 L427.2,467.7 L428.2,471.0 L429.2,474.5 L430.2,478.1 L431.2,481.8 L432.2,485.7 L433.2,489.7 L434.2,493.8 L435.2,498.0 L436.2,502.3 L437.2,506.6 L438.2,511.0 L439.2,515.3 L440.2,519.7 L441.2,524.1 L442.2,528.4 L443.2,532.6 L444.2,536.8 L445.2,540.9 L446.2,544.9 L447.2,548.7 L448.2,552.4 L449.2,555.9 L450.2,559.3 L451.2,562.4 L452.2,565.4 L453.2,568.1 L454.2,570.7 L455.2,573.2 L456.2,575.5 L457.2,577.7 L458.2,579.8 L459.2,581.9 L460.2,583.9 L461.2,585.8 L462.2,587.7 L463.2,589.6 L464.2,591.5 L465.2,593.4 L466.2,595.3 L467.2,597.2 L468.2,599.1 L469.2,600.9 L470.2,602.8 L471.2,604.5 L472.2,606.2 L473.2,607.8 L474.2,609.4 L475.2,610.8 L476.2,612.2 L477.2,613.5 L478.2,614.7 L479.2,615.9 L480.2,617.0 L481.2,618.0 L482.2,619.0 L483.2,619.9 L484.2,620.8 L485.2,621.6 L486.2,622.3 L487.2,623.0 L488.2,623.7 L489.2,624.3 L490.2,624.8 L491.2,625.3 L492.2,625.8 L493.2,626.2 L494.2,626.6 L495.2,627.0 L496.2,627.3 L497.2,627.6 L498.2,627.8 L499.2,628.0 L500.2,628.2 L501.2,628.4 L502.2,628.6 L503.2,628.7 L504.2,628.8 L505.2,628.9 L506.2,629.0 L507.2,629.1 L508.2,629.2 L509.2,629.3 L510.2,629.3 L511.2,629.4 L512.2,629.4 L513.2,629.5 L514.2,629.5 L515.2,629.6 L516.2,629.7 L517.2,629.8 L518.2,629.8 L519.2,630.0 L520.2,630.1 L521.2,630.2 L522.2,630.4 L523.2,630.5 L524.2,630.7 L525.2,631.0 L525.5,631.0" fill="none" stroke="#0a1cff" stroke-width="3.5" stroke-linejoin="round" stroke-linecap="butt"/>
<path d="M68.2,416.7 H525.6 V721.4 H68.2 Z" fill="none" stroke="#000" stroke-width="1.8"/>
<line x1="68.2" y1="416.7" x2="77.2" y2="416.7" stroke="#000" stroke-width="1.5"/>
<text x="60.3" y="423.7" text-anchor="end" font-size="19.5">20</text>
<line x1="68.2" y1="518.3" x2="77.2" y2="518.3" stroke="#000" stroke-width="1.5"/>
<text x="60.3" y="525.3" text-anchor="end" font-size="19.5">10</text>
<line x1="68.2" y1="619.8" x2="77.2" y2="619.8" stroke="#000" stroke-width="1.5"/>
<text x="60.3" y="626.8" text-anchor="end" font-size="19.5">0</text>
<line x1="68.2" y1="721.4" x2="77.2" y2="721.4" stroke="#000" stroke-width="1.5"/>
<text x="60.3" y="728.4" text-anchor="end" font-size="19.5">-10</text>
<line x1="68.2" y1="467.5" x2="73.2" y2="467.5" stroke="#000" stroke-width="1.5"/>
<line x1="68.2" y1="569.0" x2="73.2" y2="569.0" stroke="#000" stroke-width="1.5"/>
<line x1="68.2" y1="670.6" x2="73.2" y2="670.6" stroke="#000" stroke-width="1.5"/>
<line x1="159.7" y1="721.4" x2="159.7" y2="712.4" stroke="#000" stroke-width="1.5"/>
<line x1="251.2" y1="721.4" x2="251.2" y2="712.4" stroke="#000" stroke-width="1.5"/>
<line x1="342.6" y1="721.4" x2="342.6" y2="712.4" stroke="#000" stroke-width="1.5"/>
<line x1="434.1" y1="721.4" x2="434.1" y2="712.4" stroke="#000" stroke-width="1.5"/>
<line x1="113.9" y1="721.4" x2="113.9" y2="716.4" stroke="#000" stroke-width="1.5"/>
<line x1="205.4" y1="721.4" x2="205.4" y2="716.4" stroke="#000" stroke-width="1.5"/>
<line x1="296.9" y1="721.4" x2="296.9" y2="716.4" stroke="#000" stroke-width="1.5"/>
<line x1="388.4" y1="721.4" x2="388.4" y2="716.4" stroke="#000" stroke-width="1.5"/>
<line x1="479.9" y1="721.4" x2="479.9" y2="716.4" stroke="#000" stroke-width="1.5"/>
<text x="68.2" y="748.2" text-anchor="middle" font-size="19.5">220</text>
<text x="159.7" y="748.2" text-anchor="middle" font-size="19.5">240</text>
<text x="251.2" y="748.2" text-anchor="middle" font-size="19.5">260</text>
<text x="342.6" y="748.2" text-anchor="middle" font-size="19.5">280</text>
<text x="434.1" y="748.2" text-anchor="middle" font-size="19.5">300</text>
<text x="525.6" y="748.2" text-anchor="middle" font-size="19.5">320</text>
<text x="296.9" y="774.0" text-anchor="middle" font-size="18.3" font-weight="bold">Wavelength (nm)</text>
<text transform="translate(21.0,571.0) rotate(-90)" text-anchor="middle" font-size="18.5" font-weight="bold">CD (mdeg)</text>
<text x="8.6" y="446.3" font-size="29">B</text>
<text transform="translate(111.0,444.7) scale(0.96,1)" font-size="22" fill="#1a1aff">TBA</text>
<text transform="translate(111.0,473.7) scale(0.96,1)" font-size="22" fill="#111">TBAL</text>
<text transform="translate(111.0,502.7) scale(0.96,1)" font-size="22" fill="#d0306a">TBAM</text>
</svg>
</body></html>
